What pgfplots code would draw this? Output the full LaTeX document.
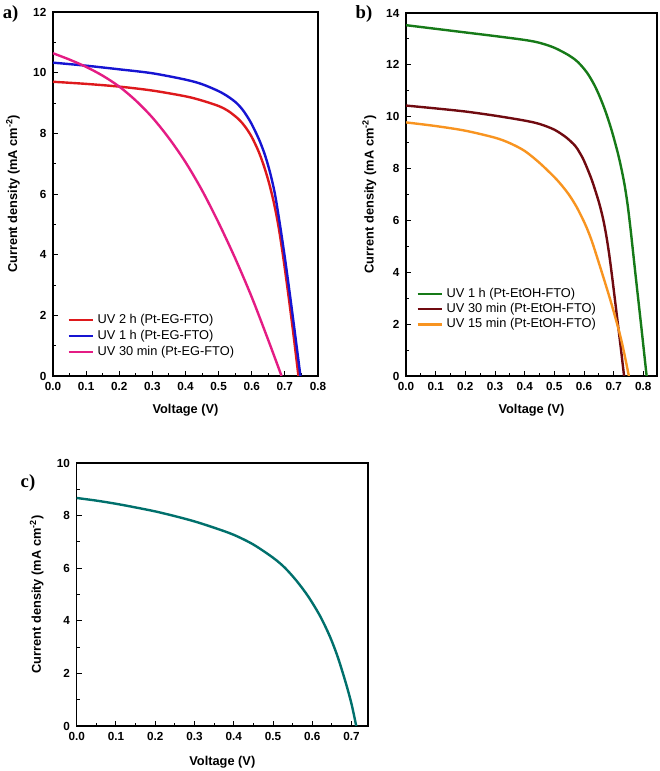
\documentclass[border=0pt]{standalone}
\usepackage{fontspec}
\setmainfont{Liberation Sans}
\newfontfamily\serifb{Liberation Serif}
\usepackage{pgfplots}
\pgfplotsset{compat=1.18}

\definecolor{cRed}{RGB}{222,25,28}
\definecolor{cBlue}{RGB}{22,20,210}
\definecolor{cPink}{RGB}{228,28,132}
\definecolor{cGreen}{RGB}{22,122,24}
\definecolor{cMaroon}{RGB}{112,10,16}
\definecolor{cOrange}{RGB}{248,148,32}
\definecolor{cTeal}{RGB}{0,112,108}

\pgfplotsset{
  jv/.style={
    scale only axis,
    axis line style={line width=0.9pt},
    every tick/.style={black, line width=0.7pt},
    tick align=inside,
    tick pos=left,
    major tick length=4pt, minor tick length=2.2pt,
    minor x tick num=1, minor y tick num=1,
    xmin=0, ymin=0,
    tick label style={font=\bfseries\fontsize{8.8}{10}\selectfont},
    x tick label style={yshift=-1.5pt},
    y tick label style={xshift=-1.5pt},
    label style={font=\bfseries\fontsize{9.6}{11}\selectfont},
    xlabel={Voltage (V)},
    ylabel={Current density (mA cm\textsuperscript{-2})},
    legend cell align=left,
    legend style={draw=none, fill=none, anchor=north west, inner sep=0pt,
      font=\fontsize{9.6}{11}\selectfont, column sep=1.5pt,
      nodes={inner sep=1pt, text height=7.3pt, text depth=2.2pt}},
    legend image code/.code={\draw[#1, line width=1.8pt] (0pt,0pt) -- (18.5pt,0pt);},
    every axis plot/.append style={line width=1.8pt, smooth, tension=0.5, no markers},
  }
}

\begin{document}
\begin{tikzpicture}
\useasboundingbox (0,0) rectangle (495pt,578.25pt);

% ---------------- panel a ----------------
\begin{axis}[jv, at={(39.75pt,296.25pt)}, anchor=south west,
  width=198.75pt, height=273pt,
  xmax=0.8, ymax=12,
  xtick={0,0.1,0.2,0.3,0.4,0.5,0.6,0.7,0.8},
  xticklabels={\textbf{0.0},\textbf{0.1},\textbf{0.2},\textbf{0.3},\textbf{0.4},\textbf{0.5},\textbf{0.6},\textbf{0.7},\textbf{0.8}},
  ytick={0,2,4,6,8,10,12},
  yticklabels={\textbf{0},\textbf{2},\textbf{4},\textbf{6},\textbf{8},\textbf{10},\textbf{12}},
  xlabel style={at={(axis description cs:0.5,-0.093)}, anchor=center},
  ylabel style={at={(axis description cs:-0.151,0.5)}, anchor=center},
  legend style={at={(0.053,0.176)}, row sep=0.5pt},
]
\addplot[cRed] coordinates {
 (0,9.70) (0.1,9.63) (0.2,9.54) (0.3,9.41) (0.4,9.22) (0.45,9.08) (0.5,8.90) (0.53,8.73)
 (0.56,8.47) (0.58,8.22) (0.60,7.88) (0.62,7.42) (0.635,6.98) (0.65,6.45) (0.665,5.80)
 (0.68,4.98) (0.695,3.92) (0.71,2.72) (0.725,1.45) (0.741,0)};
\addlegendentry{UV 2 h (Pt-EG-FTO)}
\addplot[cBlue] coordinates {
 (0,10.33) (0.1,10.23) (0.2,10.11) (0.3,9.98) (0.4,9.77) (0.45,9.62) (0.5,9.39) (0.53,9.20)
 (0.555,8.99) (0.575,8.74) (0.595,8.40) (0.61,8.08) (0.625,7.72) (0.64,7.28) (0.655,6.72)
 (0.67,6.00) (0.685,5.00) (0.70,3.90) (0.715,2.70) (0.73,1.45) (0.747,0)};
\addlegendentry{UV 1 h (Pt-EG-FTO)}
\addplot[cPink] coordinates {
 (0,10.64) (0.05,10.43) (0.10,10.19) (0.15,9.90) (0.20,9.54) (0.25,9.08) (0.30,8.52) (0.35,7.84)
 (0.40,7.05) (0.45,6.12) (0.50,5.05) (0.55,3.88) (0.60,2.60) (0.65,1.18) (0.69,0)};
\addlegendentry{UV 30 min (Pt-EG-FTO)}
\end{axis}

% ---------------- panel b ----------------
\begin{axis}[jv, at={(304.5pt,296.25pt)}, anchor=south west,
  width=188.25pt, height=272.25pt,
  xmax=0.846, ymax=14,
  xtick={0,0.1,0.2,0.3,0.4,0.5,0.6,0.7,0.8},
  xticklabels={\textbf{0.0},\textbf{0.1},\textbf{0.2},\textbf{0.3},\textbf{0.4},\textbf{0.5},\textbf{0.6},\textbf{0.7},\textbf{0.8}},
  ytick={0,2,4,6,8,10,12,14},
  yticklabels={\textbf{0},\textbf{2},\textbf{4},\textbf{6},\textbf{8},\textbf{10},\textbf{12},\textbf{14}},
  xlabel style={at={(axis description cs:0.5,-0.094)}, anchor=center},
  ylabel style={at={(axis description cs:-0.146,0.5)}, anchor=center},
  legend style={at={(0.040,0.248)}, row sep=0pt},
]
\addplot[cGreen] coordinates {
 (0,13.53) (0.1,13.39) (0.2,13.25) (0.3,13.11) (0.4,12.96) (0.45,12.85) (0.5,12.66) (0.55,12.36)
 (0.58,12.10) (0.61,11.70) (0.635,11.22) (0.655,10.72) (0.675,10.12) (0.695,9.40) (0.715,8.55)
 (0.727,7.94) (0.737,7.35) (0.747,6.60) (0.757,5.65) (0.767,4.60) (0.777,3.55) (0.794,1.80) (0.811,0)};
\addlegendentry{UV 1 h (Pt-EtOH-FTO)}
\addplot[cMaroon] coordinates {
 (0,10.43) (0.1,10.32) (0.2,10.20) (0.3,10.04) (0.4,9.85) (0.45,9.72) (0.5,9.50) (0.54,9.20)
 (0.57,8.88) (0.585,8.62) (0.60,8.30) (0.625,7.60) (0.645,6.90) (0.655,6.50) (0.665,6.02)
 (0.675,5.42) (0.685,4.68) (0.695,3.80) (0.71,2.40) (0.725,0.98) (0.735,0)};
\addlegendentry{UV 30 min (Pt-EtOH-FTO)}
\addplot[cOrange] coordinates {
 (0,9.78) (0.1,9.64) (0.2,9.46) (0.3,9.19) (0.35,8.98) (0.4,8.68) (0.45,8.22) (0.5,7.67)
 (0.525,7.35) (0.55,6.98) (0.575,6.52) (0.60,5.95) (0.615,5.55) (0.63,5.08) (0.66,4.00)
 (0.69,2.88) (0.72,1.65) (0.736,0.85) (0.751,0)};
\addlegendentry{UV 15 min (Pt-EtOH-FTO)}
\end{axis}

% ---------------- panel c ----------------
\begin{axis}[jv, at={(57.5pt,33.75pt)}, anchor=south west,
  width=218.5pt, height=197.25pt,
  xmax=0.742, ymax=10,
  xtick={0,0.1,0.2,0.3,0.4,0.5,0.6,0.7},
  xticklabels={\textbf{0.0},\textbf{0.1},\textbf{0.2},\textbf{0.3},\textbf{0.4},\textbf{0.5},\textbf{0.6},\textbf{0.7}},
  ytick={0,2,4,6,8,10},
  yticklabels={\textbf{0},\textbf{2},\textbf{4},\textbf{6},\textbf{8},\textbf{10}},
  xlabel style={at={(axis description cs:0.5,-0.136)}, anchor=center},
  ylabel style={at={(axis description cs:-0.137,0.5)}, anchor=center},
]
\addplot[cTeal] coordinates {
 (0,8.67) (0.05,8.57) (0.10,8.45) (0.15,8.31) (0.20,8.16) (0.25,7.98) (0.30,7.78) (0.35,7.54)
 (0.40,7.27) (0.45,6.90) (0.50,6.40) (0.53,6.02) (0.56,5.52) (0.59,4.92) (0.62,4.18)
 (0.645,3.40) (0.665,2.62) (0.685,1.66) (0.70,0.84) (0.712,0)};
\end{axis}

\node[font=\serifb\bfseries\fontsize{14}{16}\selectfont] at (8pt,568pt) {a)};
\node[font=\serifb\bfseries\fontsize{14}{16}\selectfont] at (273pt,568pt) {b)};
\node[font=\serifb\bfseries\fontsize{14}{16}\selectfont] at (21pt,216pt) {c)};
\end{tikzpicture}
\end{document}
